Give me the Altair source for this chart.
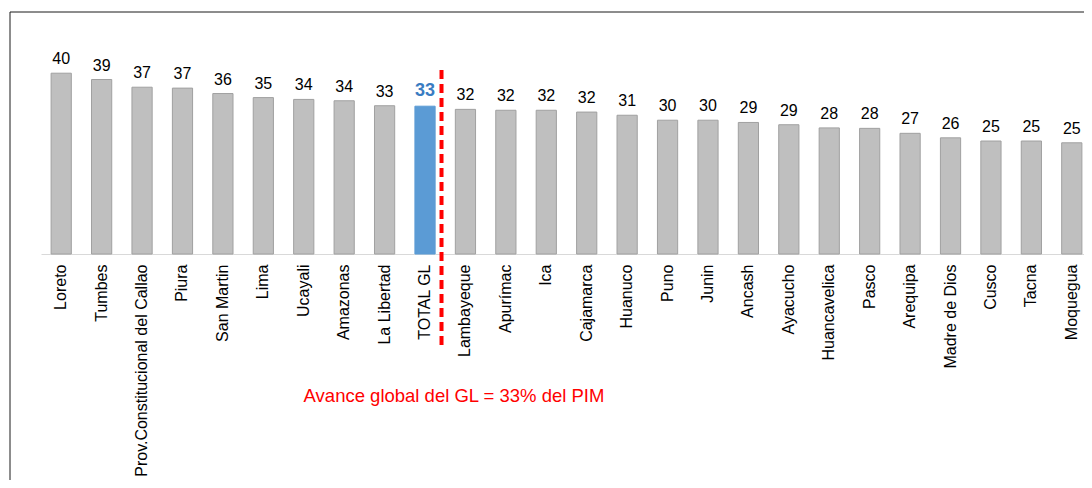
import altair as alt
import pandas as pd

regions = ["Loreto", "Tumbes", "Prov.Constitucional del Callao", "Piura", "San Martin",
           "Lima", "Ucayali", "Amazonas", "La Libertad", "TOTAL GL", "Lambayeque",
           "Apurímac", "Ica", "Cajamarca", "Huanuco", "Puno", "Junin", "Ancash",
           "Ayacucho", "Huancavelica", "Pasco", "Arequipa", "Madre de Dios", "Cusco",
           "Tacna", "Moquegua"]
values = [40.0, 38.6, 36.9, 36.7, 35.5, 34.6, 34.2, 33.9, 32.8, 32.7, 32.0,
          31.8, 31.8, 31.4, 30.7, 29.6, 29.6, 29.1, 28.6, 27.9, 27.8, 26.7, 25.7, 25.0,
          25.0, 24.6]
labels = [40, 39, 37, 37, 36, 35, 34, 34, 33, 33, 32, 32, 32, 32, 31, 30, 30, 29,
          29, 28, 28, 27, 26, 25, 25, 25]
total_name = "TOTAL GL"
note_text = ["Avance global del GL = 33% del PIM"]

df = pd.DataFrame({"region": regions, "value": values, "label": labels})

FONT = "Liberation Sans"

x_scale = alt.Scale(paddingInner=0.5, paddingOuter=0.25, range=[0, 1051])
x_enc = alt.X("region:N", sort=None, title=None, scale=x_scale,
              axis=alt.Axis(labelAngle=-90, labelFontSize=16, labelColor="#000000",
                            labelFont=FONT, ticks=False, domainColor="#d9d9d9",
                            domainWidth=1, labelPadding=10, labelLimit=0,
                            labelAlign="right", labelBaseline="middle"))
y_enc = alt.Y("value:Q", scale=alt.Scale(domain=[0, 50], nice=False), axis=None)

base = alt.Chart(df)

is_total = alt.datum.region == total_name

bars = base.mark_bar(strokeWidth=1).encode(
    x=x_enc,
    y=y_enc,
    fill=alt.condition(is_total, alt.value("#5b9bd5"), alt.value("#bfbfbf")),
    stroke=alt.condition(is_total, alt.value("#5b9bd5"), alt.value("#a0a0a0")),
)

text_other = base.transform_filter(alt.datum.region != total_name).mark_text(
    baseline="alphabetic", align="center", dy=-9, fontSize=16, font=FONT, color="#000000"
).encode(x=alt.X("region:N", sort=regions), y=y_enc, text="label:Q")

text_total = base.transform_filter(is_total).mark_text(
    baseline="alphabetic", align="center", dy=-10, fontSize=18, fontWeight="bold",
    font=FONT, color="#3a7cc2"
).encode(x=alt.X("region:N", sort=regions), y=y_enc, text="label:Q")

rule = base.transform_filter(is_total).mark_rule(
    color="#ff0000", strokeWidth=4, strokeDash=[9, 5], xOffset=16.5, strokeCap="butt"
).encode(x=alt.X("region:N", sort=regions), y=alt.value(42), y2=alt.value(320))

note = alt.Chart(pd.DataFrame({"t": note_text})).mark_text(
    align="center", baseline="alphabetic", fontSize=18.5, font=FONT, color="#ff0000"
).encode(x=alt.value(413), y=alt.value(374), text="t:N")

border = alt.Chart(pd.DataFrame({"a": [0]})).mark_rect(
    fillOpacity=0, stroke="#1a1a1a", strokeWidth=1, clip=False
).encode(x=alt.value(-31), x2=alt.value(1400), y=alt.value(-16), y2=alt.value(800))

chart = alt.layer(border, bars, text_other, text_total, rule, note).properties(
    width=1043, height=226,
    background="white",
    autosize=alt.AutoSizeParams(type="none"),
    padding={"left": 33, "top": 20, "right": 0, "bottom": 226},
).configure_view(stroke=None)

chart.save("out.html", embed_options={"renderer": "svg", "actions": False})
